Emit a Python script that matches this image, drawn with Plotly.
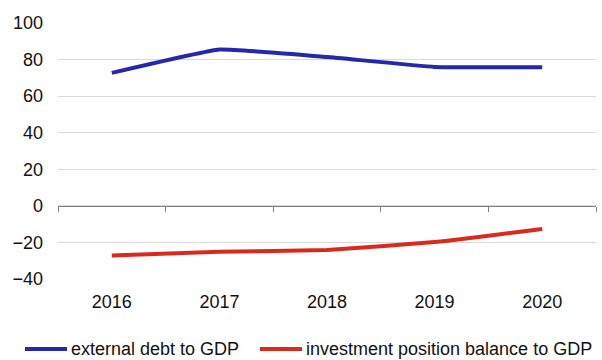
import plotly.graph_objects as go

# Categories and series values
years = ["2016", "2017", "2018", "2019", "2020"]
external_debt = [72.7, 85.5, 81.4, 76.0, 75.8]
investment_balance = [-27.1, -25.1, -24.2, -19.8, -12.6]
y_ticks = [-40, -20, 0, 20, 40, 60, 80, 100]

series_names = ["external debt to GDP", "investment position balance to GDP"]
BLUE = "#2727a9"
RED = "#da2a1e"
FONT = "Liberation Sans, Arial, sans-serif"

x_pos = list(range(len(years)))

fig = go.Figure()
fig.add_trace(go.Scatter(x=x_pos, y=external_debt, mode="lines", name=series_names[0],
                         line=dict(color=BLUE, width=4, shape="spline", smoothing=0.3),
                         showlegend=False))
fig.add_trace(go.Scatter(x=x_pos, y=investment_balance, mode="lines", name=series_names[1],
                         line=dict(color=RED, width=4, shape="spline", smoothing=0.3),
                         showlegend=False))

# Secondary x axis: the category axis line at y=0 with boundary tick marks
boundaries = [i - 0.5 for i in range(len(years) + 1)]
fig.update_layout(
    xaxis=dict(range=[-0.5, len(years) - 0.5], tickvals=x_pos, ticktext=years,
               showgrid=False, zeroline=False, showline=False, ticks="",
               ticklabelstandoff=10, tickfont=dict(size=18, color="#111111")),
    xaxis2=dict(overlaying="x", anchor="free", position=40 / 140,
                range=[-0.5, len(years) - 0.5], tickvals=boundaries,
                showticklabels=False, ticks="outside", ticklen=5, tickcolor="#808080",
                showline=True, linecolor="#808080", linewidth=1, showgrid=False,
                zeroline=False),
    yaxis=dict(range=[-40, 100], tickvals=y_ticks, showgrid=True, gridcolor="#d9d9d9",
               gridwidth=1, zeroline=False, showline=False, ticks="",
               ticklabelstandoff=14, tickfont=dict(size=18, color="#111111")),
    margin=dict(l=58, r=6, t=23, b=81),
    width=602, height=360,
    paper_bgcolor="white", plot_bgcolor="white",
    font=dict(family=FONT, size=18, color="#111111"),
)

# Invisible trace so the secondary axis is drawn
fig.add_trace(go.Scatter(x=[None], y=[None], xaxis="x2", showlegend=False, hoverinfo="skip"))

# Legend drawn below the chart
plot_w, plot_h = 538, 256
def px_x(p):
    return (p - 58) / plot_w
def px_y(p):
    return (279 - p) / plot_h

legend_y = px_y(349)
for x0, x1, color, label in [(25, 67, BLUE, series_names[0]), (260, 302, RED, series_names[1])]:
    fig.add_shape(type="line", xref="paper", yref="paper", x0=px_x(x0), x1=px_x(x1),
                  y0=legend_y, y1=legend_y, line=dict(color=color, width=4))
    fig.add_annotation(xref="paper", yref="paper", x=px_x(x1 + 2), y=legend_y,
                       xanchor="left", yanchor="middle", text=label, showarrow=False,
                       font=dict(size=18, family=FONT, color="#111111"))

fig.write_html("out.html")
